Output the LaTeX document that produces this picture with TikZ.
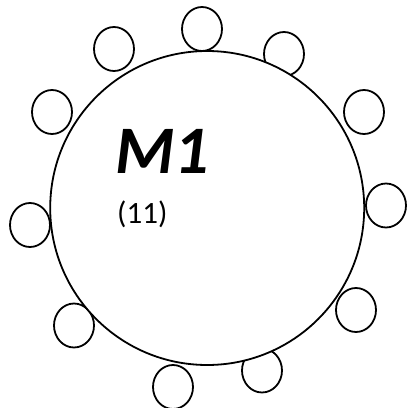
\documentclass[tikz,border=0pt]{standalone}
\usepackage{fontspec}
\setmainfont{Carlito}
\begin{document}
\begin{tikzpicture}[x=1pt,y=-1pt,
  seat/.style={draw=black,fill=white,line width=1.8pt},
  tablecirc/.style={draw=black,fill=white,line width=1.8pt},
  lbl/.style={inner sep=0pt,anchor=base west}]
\useasboundingbox (0,0) rectangle (408,408);
\foreach \n/\x/\y in {s1/202/29, s2/114/49, s3/284/54, s4/52/112, s5/364/112,
  s6/30/225, s7/386/205.5, s8/74/325.5, s9/356/310, s10/262/370.5, s11/173/387}{
  \draw[seat] (\x,\y) ellipse [x radius=20, y radius=22];
  \coordinate (\n) at (\x,\y);
}
\draw[tablecirc] (207.2,208) circle [radius=157];
\coordinate (table) at (207.2,208);
\node[lbl,font=\fontsize{68}{72}\selectfont\bfseries\itshape] (m1) at (115,173) {M1};
\node[lbl,font=\fontsize{31}{35}\selectfont] (cnt) at (117,223.5) {(11)};
\end{tikzpicture}
\end{document}
